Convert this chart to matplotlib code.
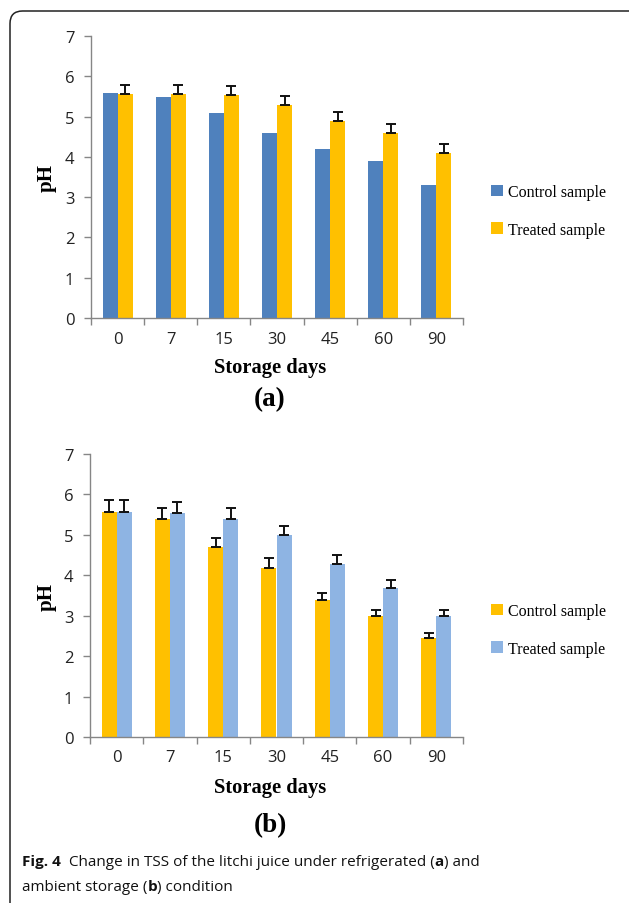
import matplotlib
matplotlib.use('Agg')
import matplotlib.pyplot as plt
from matplotlib.patches import FancyBboxPatch
import numpy as np

# storage days (categories)
days = ['0', '7', '15', '30', '45', '60', '90']

# (a) refrigerated storage
ph_a_control = [5.58, 5.49, 5.09, 4.59, 4.19, 3.89, 3.30]
ph_a_treated = [5.57, 5.57, 5.53, 5.29, 4.89, 4.59, 4.09]
err_a_treated = [0.22, 0.22, 0.22, 0.22, 0.22, 0.22, 0.22]

# (b) ambient storage
ph_b_control = [5.57, 5.39, 4.69, 4.19, 3.39, 2.99, 2.44]
ph_b_treated = [5.57, 5.53, 5.39, 4.99, 4.29, 3.69, 2.99]
err_b_control = [0.28, 0.27, 0.24, 0.23, 0.17, 0.16, 0.14]
err_b_treated = [0.28, 0.29, 0.27, 0.24, 0.22, 0.19, 0.16]

BLUE = '#4F81BD'
YELLOW = '#FFC000'
LIGHTBLUE = '#8EB4E3'
AXGREY = '#868686'

W, H = 629, 904
fig = plt.figure(figsize=(W / 100, H / 100), dpi=100)


def px_rect(left, top, right, bottom):
    return [left / W, 1 - bottom / H, (right - left) / W, (bottom - top) / H]


def bar_panel(rect, c_vals, t_vals, c_col, t_col, c_err=None, t_err=None):
    ax = fig.add_axes(rect)
    x = np.arange(len(days))
    bw = 0.283
    ekw = dict(ecolor='#111111', elinewidth=1.4, capsize=3.5, capthick=1.4)
    ax.bar(x - bw / 2, c_vals, bw, color=c_col, label='Control sample',
           yerr=None if c_err is None else [np.zeros(len(c_err)), c_err],
           error_kw=ekw, zorder=2)
    ax.bar(x + bw / 2, t_vals, bw, color=t_col, label='Treated sample',
           yerr=None if t_err is None else [np.zeros(len(t_err)), t_err],
           error_kw=ekw, zorder=2)
    ax.set_xlim(-0.5, len(days) - 0.5)
    ax.set_ylim(0, 7)
    ax.set_yticks(range(8))
    ax.set_xticks(x)
    ax.set_xticklabels(days)
    ax.set_xticks(np.arange(-0.5, len(days)), minor=True)
    ax.tick_params(axis='x', which='major', length=0, pad=9)
    ax.tick_params(axis='x', which='minor', length=5, color=AXGREY, width=1)
    ax.tick_params(axis='y', length=5, color=AXGREY, width=1, pad=7)
    for lab in ax.get_xticklabels() + ax.get_yticklabels():
        lab.set_family('Open Sans')
        lab.set_fontsize(12)
        lab.set_color('#222222')
    for s in ['top', 'right']:
        ax.spines[s].set_visible(False)
    for s in ['left', 'bottom']:
        ax.spines[s].set_color(AXGREY)
        ax.spines[s].set_linewidth(1)
    return ax


ax_a = bar_panel(px_rect(91, 37, 463, 319), ph_a_control, ph_a_treated,
                 BLUE, YELLOW, t_err=err_a_treated)
ax_b = bar_panel(px_rect(90, 455, 463, 738), ph_b_control, ph_b_treated,
                 YELLOW, LIGHTBLUE, c_err=err_b_control, t_err=err_b_treated)

serif = 'Liberation Serif'
for ax, ylab_y, xlab_y, tag_y, tag, leg_y in [
        (ax_a, 178, 368, 400, '(a)', 212),
        (ax_b, 597, 788, 826, '(b)', 631)]:
    fig.text(47 / W, 1 - ylab_y / H, 'pH', rotation=90, ha='center',
             va='center', family=serif, weight='bold', fontsize=15)
    fig.text(270 / W, 1 - xlab_y / H, 'Storage days', ha='center',
             va='center', family=serif, weight='bold', fontsize=14.8)
    fig.text(270 / W, 1 - tag_y / H, tag, ha='center', va='center',
             family=serif, weight='bold', fontsize=19.5)
    ax.legend(loc='center left', bbox_to_anchor=(491 / W, 1 - leg_y / H),
              bbox_transform=fig.transFigure, frameon=False,
              prop={'family': serif, 'size': 11.5}, handlelength=0.75,
              handleheight=0.75, handletextpad=0.3, labelspacing=1.35,
              borderpad=0, borderaxespad=0)

# figure frame (rounded corner at top left)
frame = FancyBboxPatch((10 / W, -0.05), 1.2, 1 - 12 / H + 0.05,
                       boxstyle='round,pad=0,rounding_size=0.02',
                       transform=fig.transFigure, fill=False,
                       edgecolor='#222222', linewidth=1.1, clip_on=False,
                       mutation_aspect=W / H)
fig.patches.append(frame)

# caption with mixed weights
cap_font = 'Open Sans'
cap_size = 11
fig.canvas.draw()
renderer = fig.canvas.get_renderer()


def rich_line(x_px, y_px, parts):
    x = x_px / W
    for s, w in parts:
        t = fig.text(x, 1 - y_px / H, s, weight=w, family=cap_font,
                     fontsize=cap_size, va='baseline', ha='left',
                     color='#111111')
        bb = t.get_window_extent(renderer)
        x += bb.width / W


rich_line(22, 866, [('Fig. 4', 'bold'),
                    ('  Change in TSS of the litchi juice under refrigerated (', 'normal'),
                    ('a', 'bold'), (') and', 'normal')])
rich_line(22, 891, [('ambient storage (', 'normal'), ('b', 'bold'),
                    (') condition', 'normal')])

fig.savefig('out.png', dpi=100)
